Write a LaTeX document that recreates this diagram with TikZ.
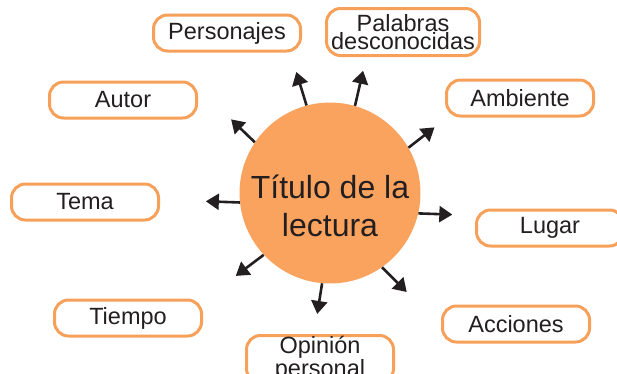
\documentclass[tikz,border=0pt]{standalone}
\usepackage{fontspec}
\setmainfont{Liberation Sans}
\usetikzlibrary{arrows.meta,shapes.geometric}
\definecolor{lectorange}{HTML}{F9A35F}
\definecolor{lectline}{HTML}{F7A05A}
\definecolor{lectink}{HTML}{231F20}

\begin{document}
\begin{tikzpicture}[
  x=1pt, y=-1pt,
  font=\fontsize{23.5}{18}\selectfont,
  topic/.style={rounded corners=14pt, draw=lectline, line width=3pt, fill=white,
                text=lectink, align=center, inner sep=0pt,
                minimum width=147pt, minimum height=36pt},
  center/.style={circle, fill=lectorange, inner sep=0pt, minimum size=178pt,
                 text=lectink, align=center, text height=88pt,
                 font=\fontsize{32}{38}\selectfont},
  spoke/.style={-{Triangle[length=13pt,width=16pt]}, line width=2.6pt, draw=lectink}
]
  \useasboundingbox (0,0) rectangle (617,373);
  \clip (0,0) rectangle (617,373);

  \node[center] (titulo) at (330,193) {Título de la\\lectura};

  \node[topic] (personajes) at (227,33) {Personajes};
  \node[topic, minimum width=153pt, minimum height=47pt] (palabras) at (403,32) {Palabras\\desconocidas};
  \node[topic] (autor) at (123,100) {Autor};
  \node[topic] (ambiente) at (520,98) {Ambiente};
  \node[topic] (tema) at (85,202) {Tema};
  \node[topic] (lugar) at (550,228) {Lugar};
  \node[topic] (tiempo) at (128,318) {Tiempo};
  \node[topic] (acciones) at (516,324) {Acciones};
  \node[topic, minimum height=47pt] (opinion) at (320,359) {Opinión\\personal};

  % spokes: start angle on the circle / direction / length
  \foreach \from/\dir/\len in {105/107/35, 74/77/36, 146/136/33, 30/38/33,
                               186/178/34, 347/358/34, 223/217/35, 305/315/35,
                               265/261/31}
    \draw[spoke] (titulo.\from) -- ++({\dir}:{\len} and {-\len});
\end{tikzpicture}
\end{document}
